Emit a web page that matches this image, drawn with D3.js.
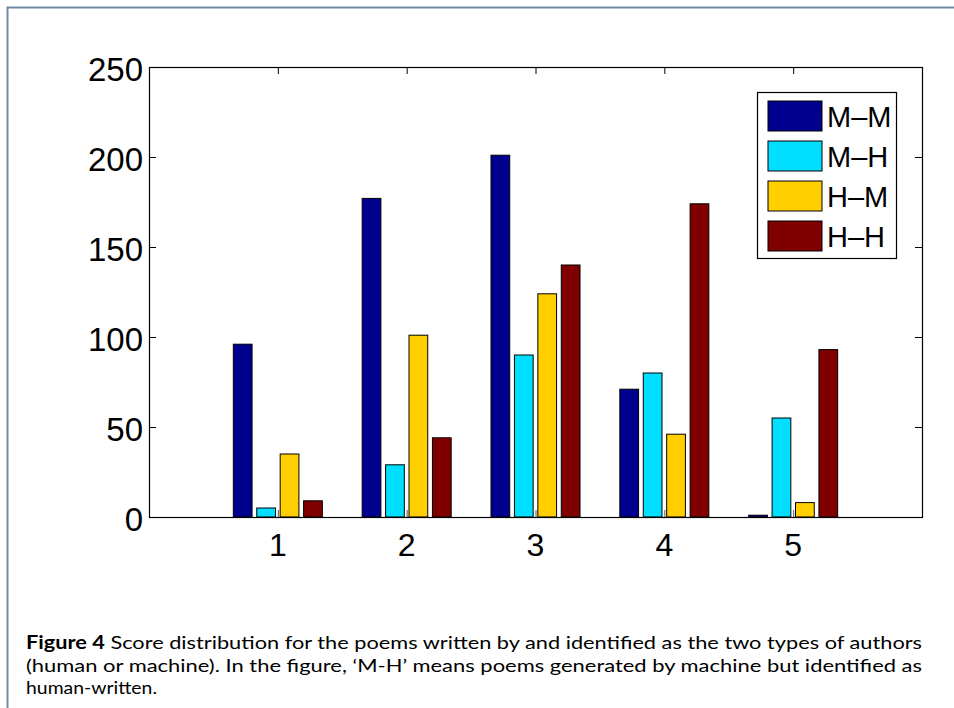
<!DOCTYPE html>
<html>
<head>
<meta charset="utf-8">
<script src="https://cdn.jsdelivr.net/npm/d3@7/dist/d3.min.js"></script>
<style>
    html, body { margin: 0; padding: 0; background: #ffffff; }
    svg { display: block; }
</style>
</head>
<body>
<div id="chart"></div>
<script>
// Data
const scores = [1, 2, 3, 4, 5];
const seriesNames = ["M\u2013M", "M\u2013H", "H\u2013M", "H\u2013H"];
const seriesColors = ["#00008F", "#00DFFF", "#FFCF00", "#800000"];
const mmValues = [96, 177, 201, 71, 1];
const mhValues = [5, 29, 90, 80, 55];
const hmValues = [35, 101, 124, 46, 8];
const hhValues = [9, 44, 140, 174, 93];
const yTicks = [0, 50, 100, 150, 200, 250];

const captionLines = [
    { bold: "Figure 4", text: " Score distribution for the poems written by and identified as the two types of authors", width: 896 },
    { bold: "", text: "(human or machine). In the figure, \u2018M-H\u2019 means poems generated by machine but identified as", width: 896 },
    { bold: "", text: "human-written.", width: 131 }
];

const series = [mmValues, mhValues, hmValues, hhValues];

const width = 954;
const height = 708;
const plot = { left: 149, top: 67, right: 922, bottom: 517 };

const svg = d3.select("#chart")
    .append("svg")
    .attr("width", width)
    .attr("height", height);

// Page frame (top and left rules)
svg.append("path")
    .attr("d", `M7.5,${height} L7.5,7.5 L${width},7.5`)
    .attr("fill", "none")
    .attr("stroke", "#6f8aa8")
    .attr("stroke-width", 2);

// Scales
const x = d3.scaleLinear().domain([0, 6]).range([plot.left, plot.right]);
const y = d3.scaleLinear().domain([0, 250]).range([plot.bottom, plot.top]);

const unit = x(1) - x(0);
const groupWidth = Math.min(0.8, series.length / (series.length + 1.5));
const step = groupWidth / series.length * unit;
const barWidth = step * 0.8;

const tickLen = 7;

// Bottom ticks sit under the bars (visible in the gaps)
svg.append("g")
    .selectAll("line")
    .data(scores)
    .join("line")
    .attr("x1", d => x(d) + 0.5)
    .attr("x2", d => x(d) + 0.5)
    .attr("y1", plot.bottom)
    .attr("y2", plot.bottom - tickLen)
    .attr("stroke", "#555")
    .attr("stroke-width", 1);

// Bars
series.forEach((values, s) => {
    const offset = (s - (series.length - 1) / 2) * step;
    svg.append("g")
        .selectAll("rect")
        .data(values)
        .join("rect")
        .attr("x", (d, i) => x(scores[i]) + offset - barWidth / 2)
        .attr("y", d => y(d))
        .attr("width", barWidth)
        .attr("height", d => y(0) - y(d))
        .attr("fill", seriesColors[s])
        .attr("stroke", "#000")
        .attr("stroke-width", 1);
});

// Axes box
svg.append("rect")
    .attr("x", plot.left + 0.5)
    .attr("y", plot.top + 0.5)
    .attr("width", plot.right - plot.left)
    .attr("height", plot.bottom - plot.top)
    .attr("fill", "none")
    .attr("stroke", "#000")
    .attr("stroke-width", 1.2);

// Top ticks
svg.append("g")
    .selectAll("line")
    .data(scores)
    .join("line")
    .attr("x1", d => x(d) + 0.5)
    .attr("x2", d => x(d) + 0.5)
    .attr("y1", plot.top)
    .attr("y2", plot.top + tickLen)
    .attr("stroke", "#000");

// Y ticks on both sides
const yTickGroup = svg.append("g");
yTicks.forEach(t => {
    yTickGroup.append("line")
        .attr("x1", plot.left).attr("x2", plot.left + tickLen)
        .attr("y1", y(t) + 0.5).attr("y2", y(t) + 0.5)
        .attr("stroke", "#000");
    yTickGroup.append("line")
        .attr("x1", plot.right).attr("x2", plot.right - tickLen)
        .attr("y1", y(t) + 0.5).attr("y2", y(t) + 0.5)
        .attr("stroke", "#000");
});

// Tick labels
svg.append("g")
    .selectAll("text")
    .data(yTicks)
    .join("text")
    .attr("x", plot.left - 6)
    .attr("y", d => y(d) + 14)
    .attr("text-anchor", "end")
    .attr("font-family", "'Liberation Sans', Arial, sans-serif")
    .attr("font-size", 33)
    .attr("fill", "#000")
    .text(d => d);

svg.append("g")
    .selectAll("text")
    .data(scores)
    .join("text")
    .attr("x", d => x(d))
    .attr("y", plot.bottom + 39)
    .attr("text-anchor", "middle")
    .attr("font-family", "'Liberation Sans', Arial, sans-serif")
    .attr("font-size", 32)
    .attr("fill", "#000")
    .text(d => d);

// Legend
const legend = svg.append("g");
legend.append("rect")
    .attr("x", 757.5)
    .attr("y", 92.5)
    .attr("width", 139)
    .attr("height", 166)
    .attr("fill", "#fff")
    .attr("stroke", "#000")
    .attr("stroke-width", 1.2);

seriesNames.forEach((name, i) => {
    const top = 101 + i * 40;
    legend.append("rect")
        .attr("x", 768)
        .attr("y", top)
        .attr("width", 54)
        .attr("height", 30)
        .attr("fill", seriesColors[i])
        .attr("stroke", "#000")
        .attr("stroke-width", 1);
    legend.append("text")
        .attr("x", 827)
        .attr("y", top + 26)
        .attr("font-family", "'Liberation Sans', Arial, sans-serif")
        .attr("font-size", 29)
        .attr("fill", "#000")
        .text(name);
});

// Caption
captionLines.forEach((line, i) => {
    const t = svg.append("text")
        .attr("x", 26)
        .attr("y", 649 + i * 22.5)
        .attr("font-family", "Lato, 'Open Sans', sans-serif")
        .attr("font-size", 18)
        .attr("fill", "#000")
        .attr("textLength", line.width)
        .attr("lengthAdjust", "spacingAndGlyphs");
    if (line.bold) {
        t.append("tspan").attr("font-weight", "bold").text(line.bold);
    }
    t.append("tspan").text(line.text);
});
</script>
</body>
</html>
